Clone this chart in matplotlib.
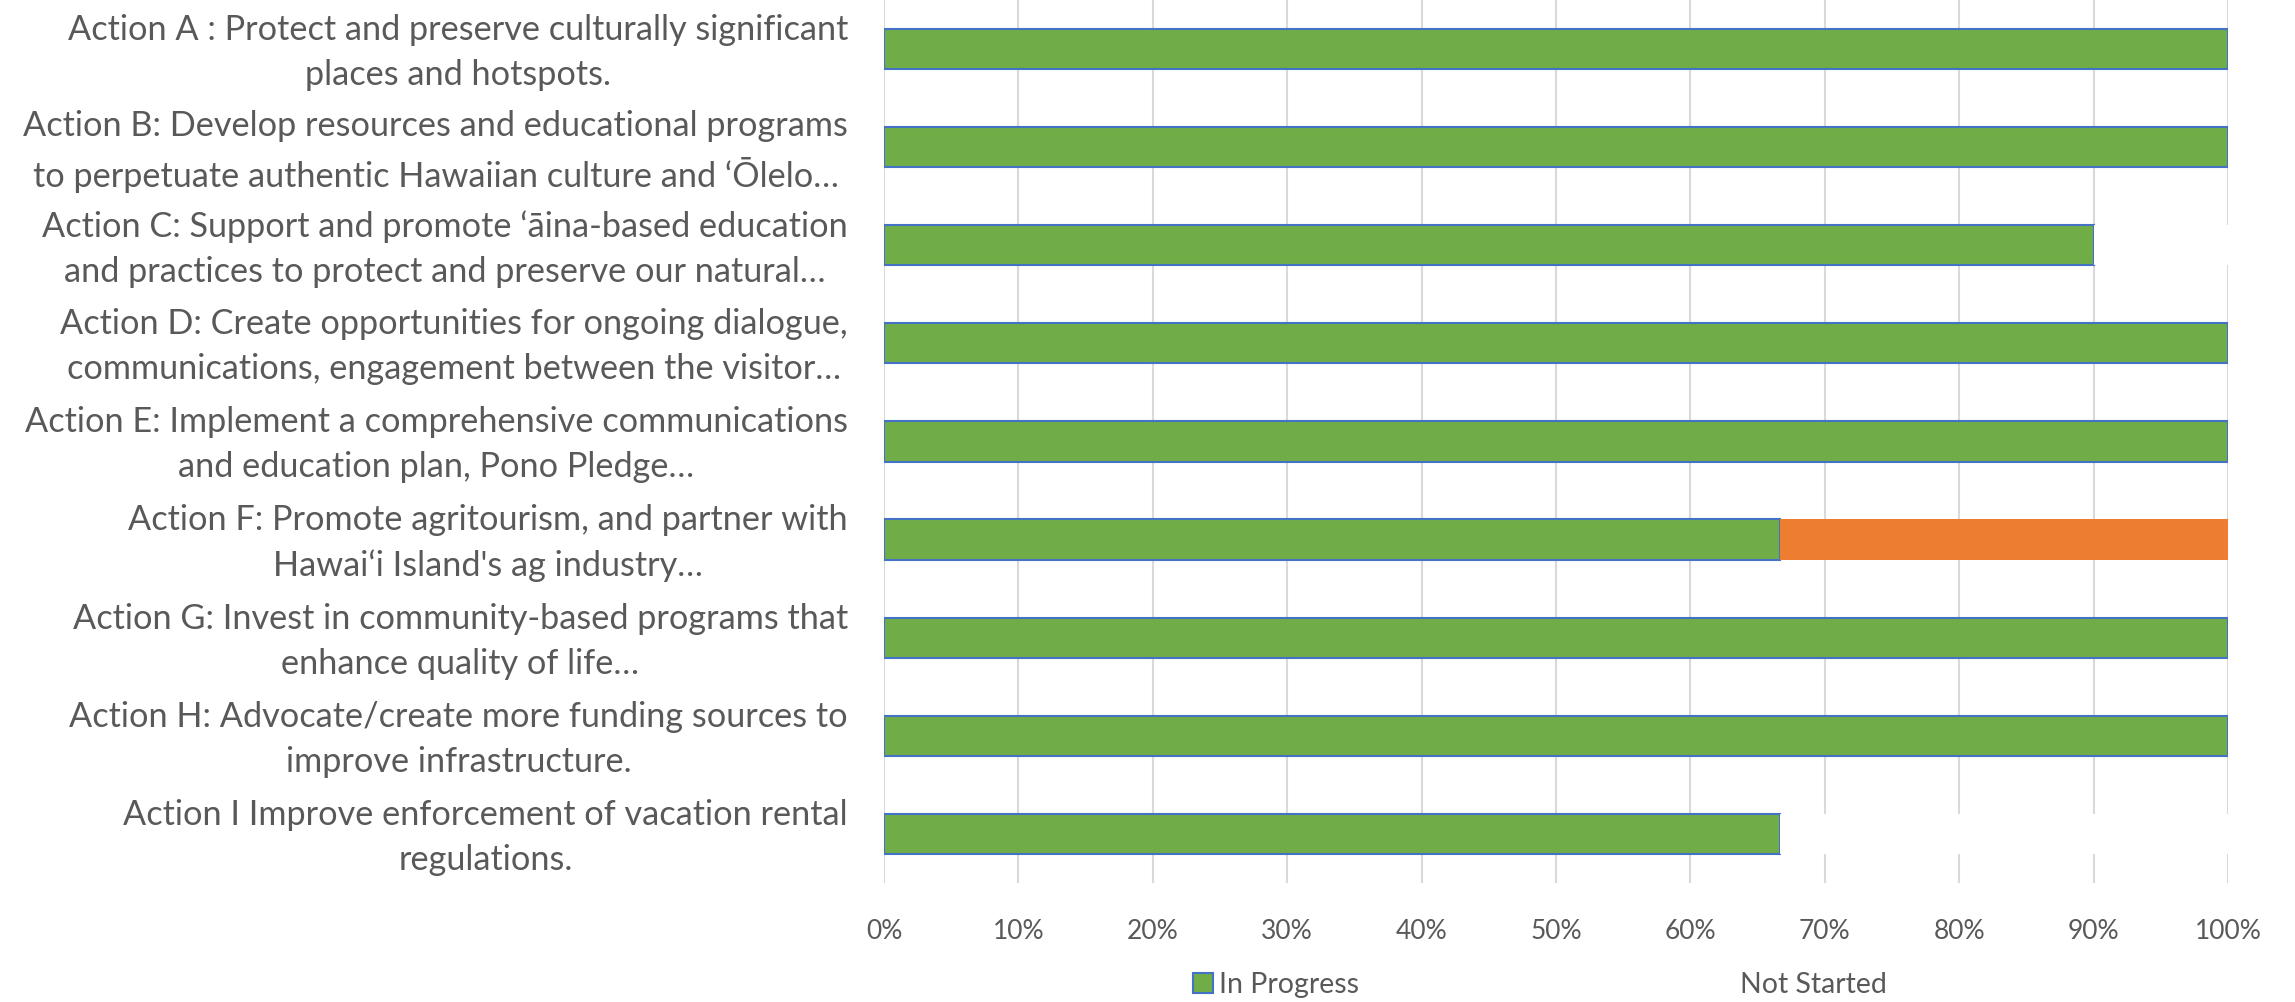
import matplotlib
matplotlib.use('Agg')
import matplotlib.pyplot as plt
from matplotlib.patches import Patch
from matplotlib.ticker import PercentFormatter
from matplotlib.transforms import ScaledTranslation
import numpy as np

plt.rcParams['font.family'] = ['Lato', 'Open Sans', 'DejaVu Sans']

actions = [
    "Action A : Protect and preserve culturally significant\nplaces and hotspots.",
    "Action B: Develop resources and educational programs\nto perpetuate authentic Hawaiian culture and \u2018\u014clelo\u2026",
    "Action C: Support and promote \u2018\u0101ina-based education\nand practices to protect and preserve our natural\u2026",
    "Action D: Create opportunities for ongoing dialogue,\ncommunications, engagement between the visitor\u2026",
    "Action E: Implement a comprehensive communications\nand education plan, Pono Pledge\u2026",
    "Action F: Promote agritourism, and partner with\nHawai\u2018i Island's ag industry\u2026",
    "Action G: Invest in community-based programs that\nenhance quality of life\u2026",
    "Action H: Advocate/create more funding sources to\nimprove infrastructure.",
    "Action I Improve enforcement of vacation rental\nregulations.",
]
in_progress = [1.0, 1.0, 0.9, 1.0, 1.0, 0.667, 1.0, 1.0, 0.667]
not_started = [0.0, 0.0, 0.1, 0.0, 0.0, 0.333, 0.0, 0.0, 0.333]
not_started_colors = ['white', 'white', 'white', 'white', 'white', '#ED7D31', 'white', 'white', 'white']

text_col = '#595959'
green = '#70AD47'
edge = '#4472C4'

fig = plt.figure(figsize=(22.95, 10.02), dpi=100)
ax = fig.add_axes([0.3852, 0.1188, 0.5856, 0.8812])

y = np.arange(len(actions))
h = 0.41
ax.barh(y, in_progress, height=h, color=green, edgecolor=edge, linewidth=1.5, zorder=3)
ax.barh(y, not_started, left=in_progress, height=h, color=not_started_colors,
        edgecolor='none', zorder=3)

ax.set_xlim(0, 1)
ax.set_ylim(len(actions) - 0.5, -0.5)
ax.set_xticks(np.arange(0, 1.01, 0.1))
ax.xaxis.set_major_formatter(PercentFormatter(1.0, decimals=0))
ax.set_yticks(y)
ax.set_yticklabels(actions, multialignment='center', linespacing=1.5)
ax.tick_params(axis='y', length=0, pad=26, labelsize=24.7, labelcolor=text_col)
ax.tick_params(axis='x', length=0, pad=26, labelsize=19, labelcolor=text_col)
ax.grid(axis='x', color='#D9D9D9', linewidth=1.5, zorder=0)
for s in ax.spines.values():
    s.set_visible(False)

# nudge the two-line labels up a little so they sit centred on the bars
shift = ScaledTranslation(0, 6 / 100, fig.dpi_scale_trans)
for lbl in ax.get_yticklabels():
    lbl.set_transform(lbl.get_transform() + shift)

handles = [Patch(facecolor=green, edgecolor=edge, linewidth=1.5),
           Patch(facecolor='white', edgecolor='none')]
fig.legend(handles, ['In Progress', 'Not Started'], loc='center',
           bbox_to_anchor=(0.671, 0.017), ncol=2, frameon=False,
           fontsize=20.5, labelcolor=text_col, handlelength=0.7, handleheight=0.7,
           handletextpad=0.2, columnspacing=12.5)

fig.savefig('out.png', dpi=100)
